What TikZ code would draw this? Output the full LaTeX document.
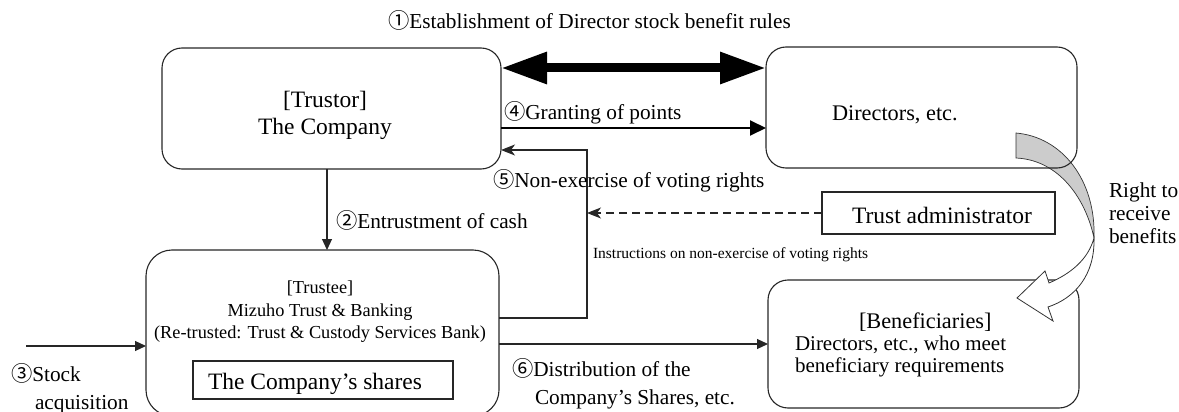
\documentclass[tikz,border=0pt]{standalone}
\usepackage{fontspec}
\setmainfont{Liberation Serif}
\newfontfamily\cjkfont{Noto Sans CJK JP}
\usetikzlibrary{arrows.meta,calc}
\newcommand{\cnum}[1]{{\cjkfont #1}}
\begin{document}
\begin{tikzpicture}[x=1pt,y=-1pt,
  rbox/.style={draw=black!85, line width=1.1pt, rounded corners=20pt, inner sep=0pt, outer sep=0pt},
  sbox/.style={draw=black!85, line width=1.1pt, inner sep=0pt, outer sep=0pt},
  txt/.style={inner sep=0pt, outer sep=0pt, anchor=base west},
  ctxt/.style={inner sep=0pt, outer sep=0pt, anchor=base},
  flbl/.style={font=\fontsize{21.3pt}{24pt}\selectfont},
  fbig/.style={font=\fontsize{23.5pt}{26pt}\selectfont},
  fmid/.style={font=\fontsize{18.3pt}{21pt}\selectfont},
  fsmall/.style={font=\fontsize{15.5pt}{18pt}\selectfont},
  conn/.style={draw=black!85, line width=1.1pt},
  tri/.tip={Triangle[length=11pt,width=10pt]},
  stl/.tip={Stealth[length=14pt,width=11pt,inset=4pt]}
]
\useasboundingbox (0,0) rectangle (1179,412);

% curved arrow: back (grey) part
\path[fill=black!20, draw=black!80, line width=0.7pt]
  (1016,133) .. controls (1062,137) and (1096,180) .. (1094,238)
  .. controls (1086,200) and (1060,160) .. (1016,158) -- cycle;

% boxes
\node[rbox, minimum width=339pt, minimum height=121pt] (trustor) at (331.5,108.5) {};
\node[rbox, minimum width=311pt, minimum height=121pt] (directors) at (921.5,107.5) {};
\node[sbox, minimum width=233pt, minimum height=42pt] (admin) at (938.5,213) {};
\node[rbox, rounded corners=26pt, minimum width=353pt, minimum height=166pt] (trustee) at (322.5,333) {};
\node[rbox, minimum width=311pt, minimum height=128pt] (bene) at (923.5,344) {};
\node[sbox, minimum width=260pt, minimum height=38pt] (shares) at (323,380) {};

% curved arrow: front (white) part with head
\path[fill=white, draw=black!80, line width=0.8pt]
  (1094,238) .. controls (1095,275) and (1075,298) .. (1048,307)
  -- (1053,321) -- (1017,298) -- (1045,271) -- (1049,283)
  .. controls (1070,274) and (1088,260) .. (1094,238) -- cycle;

% box texts
\node[ctxt, fbig] (t1) at (325,107) {[Trustor]};
\node[ctxt, fbig] (t2) at (325,135) {The Company};
\node[txt, font=\fontsize{22.3pt}{25pt}\selectfont] (d1) at (832,121) {Directors, etc.};
\node[txt, fbig] (a1) at (852,223) {Trust administrator};
\node[ctxt, fmid] (e1) at (320,293) {[Trustee]};
\node[ctxt, fmid] (e2) at (320,316) {Mizuho Trust \& Banking};
\node[ctxt, fmid] (e3) at (320,338) {(Re-trusted: Trust \& Custody Services Bank)};
\node[txt, fbig] (s1) at (208,389) {The Company’s shares};
\node[txt, font=\fontsize{22.3pt}{25pt}\selectfont] (b1) at (859,328) {[Beneficiaries]};
\node[txt, font=\fontsize{21pt}{24pt}\selectfont] (b2) at (795,350) {Directors, etc., who meet};
\node[txt, font=\fontsize{21pt}{24pt}\selectfont] (b3) at (795,372) {beneficiary requirements};

% connectors
\coordinate (r1) at (0,68);
\draw[line width=9pt, {Triangle[length=46pt,width=30pt]}-{Triangle[length=46pt,width=30pt]}]
  (trustor.east |- r1) -- (directors.west |- r1);
\coordinate (r4) at (0,128);
\draw[line width=2pt, -{Triangle[length=16pt,width=15pt]}]
  (trustor.east |- r4) -- (directors.west |- r4);
\coordinate (v2) at (327,0);
\draw[conn, -tri] (trustor.south -| v2) -- (trustee.north -| v2);
\coordinate (v5) at (587,150);
\coordinate (h5) at (0,318);
\draw[conn, -stl] (trustee.east |- h5) -| (v5) -- (trustor.east |- v5);
\draw[conn, dash pattern=on 8pt off 5pt, -stl] (admin.west) -- (admin.west -| v5);
\coordinate (h3) at (26,346);
\draw[conn, -tri] (h3) -- (trustee.west |- h3);
\coordinate (h6) at (0,344);
\draw[conn, -tri] (trustee.east |- h6) -- (bene.west |- h6);

% labels
\node[txt, flbl] (l1) at (388,29) {\cnum{①}Establishment of Director stock benefit rules};
\node[txt, flbl] (l4) at (504,120) {\cnum{④}Granting of points};
\node[txt, flbl] (l5) at (493,187) {\cnum{⑤}Non-exercise of voting rights};
\node[txt, flbl] (l2) at (336,228) {\cnum{②}Entrustment of cash};
\node[txt, fsmall] (li) at (593,258) {Instructions on non-exercise of voting rights};
\node[txt, flbl] (l6a) at (512,376) {\cnum{⑥}Distribution of the};
\node[txt, flbl] (l6b) at (535,404) {Company’s Shares, etc.};
\node[txt, flbl] (l3a) at (11,381) {\cnum{③}Stock};
\node[txt, flbl] (l3b) at (35,409) {acquisition};
\node[txt, flbl] (rr1) at (1109,197) {Right to};
\node[txt, flbl] (rr2) at (1109,220) {receive};
\node[txt, flbl] (rr3) at (1109,243) {benefits};
\end{tikzpicture}
\end{document}
